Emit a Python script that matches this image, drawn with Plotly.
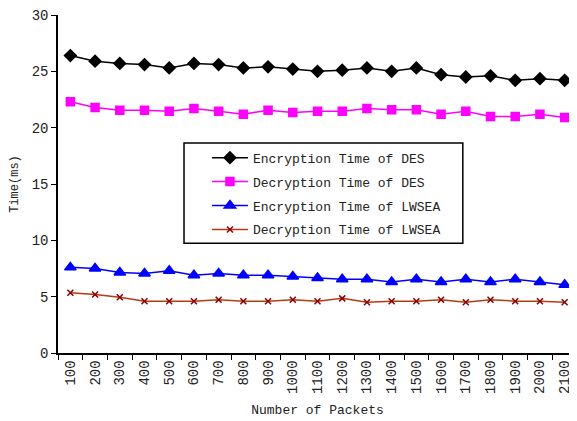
import plotly.graph_objects as go

packets = ["100", "200", "300", "400", "500", "600", "700", "800", "900", "1000",
           "1100", "1200", "1300", "1400", "1500", "1600", "1700", "1800", "1900", "2000", "2100"]
enc_des = [26.4, 25.9, 25.7, 25.6, 25.3, 25.7, 25.6, 25.3, 25.4, 25.2,
           25.0, 25.1, 25.3, 25.0, 25.3, 24.7, 24.5, 24.6, 24.2, 24.35, 24.2]
dec_des = [22.3, 21.8, 21.55, 21.55, 21.45, 21.7, 21.45, 21.2, 21.55, 21.35,
           21.45, 21.45, 21.7, 21.6, 21.6, 21.2, 21.45, 21.0, 21.0, 21.2, 20.9]
enc_lwsea = [7.6, 7.5, 7.15, 7.05, 7.3, 6.9, 7.05, 6.9, 6.9, 6.8,
             6.65, 6.55, 6.55, 6.3, 6.55, 6.3, 6.55, 6.3, 6.55, 6.3, 6.05]
dec_lwsea = [5.35, 5.2, 4.95, 4.6, 4.6, 4.6, 4.73, 4.6, 4.6, 4.73,
             4.6, 4.85, 4.5, 4.6, 4.6, 4.73, 4.5, 4.73, 4.6, 4.6, 4.5]
y_ticks = [0, 5, 10, 15, 20, 25, 30]

FONT = "Liberation Mono"

fig = go.Figure()
series = [
    ("Encryption Time of DES", enc_des, "black", "black", "diamond", 9),
    ("Decryption Time of DES", dec_des, "#FF00FF", "#FF00FF", "square", 8),
    ("Encryption Time of LWSEA", enc_lwsea, "#0000FF", "#0000FF", "triangle-up", 10),
    ("Decryption Time of LWSEA", dec_lwsea, "#B83A14", "#8B0000", "x-thin-open", 6),
]
for i, (name, vals, lc, mc, sym, sz) in enumerate(series):
    fig.add_trace(go.Scatter(
        x=packets, y=vals, name=name, mode="lines+markers",
        line=dict(color=lc, width=1.5),
        marker=dict(symbol=sym, size=sz, color=mc,
                    line=dict(color=mc, width=1.5)),
        legendgroup=f"g{i}",
    ))

# legend frame
fig.add_shape(type="rect", xref="paper", yref="paper",
              x0=0.2428, x1=0.780, y0=0.325, y1=0.621,
              line=dict(color="black", width=1.5), fillcolor="white", layer="above")

fig.update_layout(
    width=569, height=413,
    margin=dict(l=50, r=0, t=7, b=68),
    paper_bgcolor="white", plot_bgcolor="white",
    font=dict(family=FONT, size=13, color="#222"),
    showlegend=True,
    legend=dict(
        x=0.287, y=0.622, xanchor="left", yanchor="top",
        bgcolor="rgba(0,0,0,0)", borderwidth=0,
        font=dict(family=FONT, size=13, color="#222"),
        tracegroupgap=4, itemwidth=36,
    ),
)
fig.update_xaxes(
    type="category", range=[-0.5, 20.5], automargin=False,
    tickangle=-90, tickson="boundaries",
    ticks="outside", ticklen=5, tickcolor="black",
    showline=True, linecolor="black", linewidth=1.5,
    showgrid=False, zeroline=False, ticklabeloverflow="allow",
    title=dict(text="Number of Packets", font=dict(family=FONT, size=13), standoff=12),
    tickfont=dict(family=FONT, size=14),
)
fig.update_yaxes(
    range=[0, 30], tickvals=y_ticks, automargin=False,
    ticks="outside", ticklen=5, tickcolor="black",
    showline=True, linecolor="black", linewidth=1.5,
    showgrid=False, zeroline=False, ticklabeloverflow="allow",
    title=dict(text="Time(ms)", font=dict(family=FONT, size=12), standoff=10),
    tickfont=dict(family=FONT, size=14),
)

fig.write_html("out.html")
